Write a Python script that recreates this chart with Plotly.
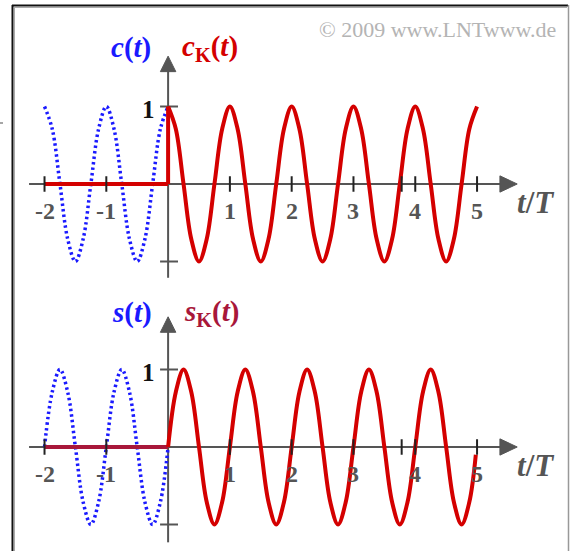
import plotly.graph_objects as go

# ---- signal samples (eighth-period steps, t in units of T) ----
t_neg = [-2, -1.875, -1.75, -1.625, -1.5, -1.375, -1.25, -1.125, -1,
         -0.875, -0.75, -0.625, -0.5, -0.375, -0.25, -0.125, 0]
c_neg = [1, 0.71, 0, -0.71, -1, -0.71, 0, 0.71, 1,
         0.71, 0, -0.71, -1, -0.71, 0, 0.71, 1]
s_neg = [0, 0.71, 1, 0.71, 0, -0.71, -1, -0.71, 0,
         0.71, 1, 0.71, 0, -0.71, -1, -0.71, 0]

t_pos = [0, 0.125, 0.25, 0.375, 0.5, 0.625, 0.75, 0.875,
         1, 1.125, 1.25, 1.375, 1.5, 1.625, 1.75, 1.875,
         2, 2.125, 2.25, 2.375, 2.5, 2.625, 2.75, 2.875,
         3, 3.125, 3.25, 3.375, 3.5, 3.625, 3.75, 3.875,
         4, 4.125, 4.25, 4.375, 4.5, 4.625, 4.75, 4.875, 5]
cK_pos = [1, 0.71, 0, -0.71, -1, -0.71, 0, 0.71,
          1, 0.71, 0, -0.71, -1, -0.71, 0, 0.71,
          1, 0.71, 0, -0.71, -1, -0.71, 0, 0.71,
          1, 0.71, 0, -0.71, -1, -0.71, 0, 0.71,
          1, 0.71, 0, -0.71, -1, -0.71, 0, 0.71, 1]
t_pos_s = [0, 0.125, 0.25, 0.375, 0.5, 0.625, 0.75, 0.875,
           1, 1.125, 1.25, 1.375, 1.5, 1.625, 1.75, 1.875,
           2, 2.125, 2.25, 2.375, 2.5, 2.625, 2.75, 2.875,
           3, 3.125, 3.25, 3.375, 3.5, 3.625, 3.75, 3.875,
           4, 4.125, 4.25, 4.375, 4.5, 4.625, 4.75, 4.875, 4.98]
sK_pos = [0, 0.71, 1, 0.71, 0, -0.71, -1, -0.71,
          0, 0.71, 1, 0.71, 0, -0.71, -1, -0.71,
          0, 0.71, 1, 0.71, 0, -0.71, -1, -0.71,
          0, 0.71, 1, 0.71, 0, -0.71, -1, -0.71,
          0, 0.71, 1, 0.71, 0, -0.71, -1, -0.71, -0.1]

# switched-off part (zero before t = 0) and switch-on step
t_off = [-2, 0]
v_off = [0, 0]
t_step = [0, 0]
c_step = [0, 1]

x_ticks = [-2, -1, 1, 2, 3, 3.78, 4, 5]
x_tick_labels = ["-2", "-1", "1", "2", "3", "4", "5"]
x_label_pos = [-2, -1, 1, 2, 3, 4, 5]

BLUE = "#1a1aff"
RED = "#d40000"
DARKRED = "#a8173a"
AXIS = "#555555"
SERIF = "Liberation Serif, Times New Roman, serif"

fig = go.Figure()

def add_panel(yref, blue_vals, red_t, red_vals, off_color, step):
    ya = "y" if yref == "y" else "y2"
    fig.add_trace(go.Scatter(x=t_neg, y=blue_vals, yaxis=ya, mode="lines",
                             line=dict(color=BLUE, width=3.5, dash="2.5px,3px", shape="spline"),
                             hoverinfo="skip"))
    fig.add_trace(go.Scatter(x=t_off, y=v_off, yaxis=ya, mode="lines",
                             line=dict(color=off_color, width=4), hoverinfo="skip"))
    if step:
        fig.add_trace(go.Scatter(x=t_step, y=c_step, yaxis=ya, mode="lines",
                                 line=dict(color=RED, width=4), hoverinfo="skip"))
    fig.add_trace(go.Scatter(x=red_t, y=red_vals, yaxis=ya, mode="lines",
                             line=dict(color=RED, width=4, shape="spline"),
                             hoverinfo="skip"))

add_panel("y", c_neg, t_pos, cK_pos, RED, True)
add_panel("y2", s_neg, t_pos_s, sK_pos, DARKRED, False)

shapes = []
annotations = []

def axes_decor(yref, v_top, v_bottom):
    # horizontal axis with arrow head
    shapes.append(dict(type="line", xref="x", yref=yref, x0=-2.25, x1=5.4, y0=0, y1=0,
                       line=dict(color=AXIS, width=2), layer="below"))
    shapes.append(dict(type="path", xref="x", yref=yref,
                       path="M 5.37,0.105 L 5.65,0 L 5.37,-0.105 Z",
                       fillcolor=AXIS, line=dict(color=AXIS, width=1)))
    # vertical axis with arrow head
    shapes.append(dict(type="line", xref="x", yref=yref, x0=0, x1=0, y0=v_bottom, y1=v_top - 0.15,
                       line=dict(color=AXIS, width=2), layer="below"))
    shapes.append(dict(type="path", xref="x", yref=yref,
                       path=f"M -0.125,{v_top - 0.2} L 0,{v_top} L 0.125,{v_top - 0.2} Z",
                       fillcolor=AXIS, line=dict(color=AXIS, width=1)))
    # tick marks
    for xt in x_ticks:
        shapes.append(dict(type="line", xref="x", yref=yref, x0=xt, x1=xt, y0=-0.1, y1=0.1,
                           line=dict(color="#222222", width=2)))
    for yv in (1, -1):
        shapes.append(dict(type="line", xref="x", yref=yref, x0=-0.13, x1=0.16, y0=yv, y1=yv,
                           line=dict(color=AXIS, width=2), layer="below"))
    for xp, lab in zip(x_label_pos, x_tick_labels):
        annotations.append(dict(x=xp, y=-0.35, xref="x", yref=yref, text=f"<b>{lab}</b>",
                                showarrow=False, xanchor="center", yanchor="middle",
                                font=dict(family=SERIF, size=24, color=AXIS)))
    annotations.append(dict(x=-0.31, y=0.96, xref="x", yref=yref, text="<b>1</b>",
                            showarrow=False, xanchor="center", yanchor="middle",
                            font=dict(family=SERIF, size=25, color="#111111")))
    annotations.append(dict(x=5.94, y=-0.24, xref="x", yref=yref, text="<b><i>t</i>/<i>T</i></b>",
                            showarrow=False, xanchor="center", yanchor="middle",
                            font=dict(family=SERIF, size=31, color=AXIS)))

axes_decor("y", 1.65, -1.21)
axes_decor("y2", 1.68, -1.23)

annotations += [
    dict(x=-0.60, y=1.755, xref="x", yref="y", text="<b><i>c</i>(<i>t</i>)</b>",
         showarrow=False, xanchor="center", yanchor="middle",
         font=dict(family=SERIF, size=29, color=BLUE)),
    dict(x=0.68, y=1.755, xref="x", yref="y", text="<b><i>c</i><sub>K</sub>(<i>t</i>)</b>",
         showarrow=False, xanchor="center", yanchor="middle",
         font=dict(family=SERIF, size=29, color=RED)),
    dict(x=-0.58, y=1.74, xref="x", yref="y2", text="<b><i>s</i>(<i>t</i>)</b>",
         showarrow=False, xanchor="center", yanchor="middle",
         font=dict(family=SERIF, size=29, color=BLUE)),
    dict(x=0.70, y=1.73, xref="x", yref="y2", text="<b><i>s</i><sub>K</sub>(<i>t</i>)</b>",
         showarrow=False, xanchor="center", yanchor="middle",
         font=dict(family=SERIF, size=29, color=DARKRED)),
    dict(x=438 / 570, y=1 - 30 / 551, xref="paper", yref="paper",
         text="© 2009 www.LNTwww.de", showarrow=False, xanchor="center", yanchor="middle",
         font=dict(family=SERIF, size=22, color="#b4b4b4")),
]

# frame around the graphic
W, H = 570, 551
def px(x):
    return x / W
def py(y):
    return 1 - y / H
shapes += [
    dict(type="line", xref="paper", yref="paper", x0=px(12.5), x1=px(12.5), y0=py(5), y1=0,
         line=dict(color="#111111", width=2)),
    dict(type="line", xref="paper", yref="paper", x0=px(14.5), x1=px(14.5), y0=py(7), y1=0,
         line=dict(color="#aaaaaa", width=1)),
    dict(type="line", xref="paper", yref="paper", x0=px(12), x1=px(568), y0=py(5.5), y1=py(5.5),
         line=dict(color="#111111", width=2)),
    dict(type="line", xref="paper", yref="paper", x0=px(14), x1=px(567), y0=py(7.5), y1=py(7.5),
         line=dict(color="#aaaaaa", width=1)),
    dict(type="line", xref="paper", yref="paper", x0=px(568.5), x1=px(568.5), y0=py(5), y1=0,
         line=dict(color="#999999", width=1.5)),
    dict(type="line", xref="paper", yref="paper", x0=0, x1=px(3), y0=py(123), y1=py(123),
         line=dict(color="#888888", width=1.5)),
]

fig.update_layout(
    width=W, height=H,
    margin=dict(l=0, r=0, t=0, b=0),
    paper_bgcolor="white", plot_bgcolor="white",
    showlegend=False,
    xaxis=dict(range=[-2.7205, 6.5043], visible=False, fixedrange=True),
    yaxis=dict(range=[-4.7355, 2.3742], visible=False, fixedrange=True),
    yaxis2=dict(range=[-1.3419, 5.7677], visible=False, overlaying="y", fixedrange=True),
    shapes=shapes,
    annotations=annotations,
)

fig.write_html("out.html", config={"displayModeBar": False})
